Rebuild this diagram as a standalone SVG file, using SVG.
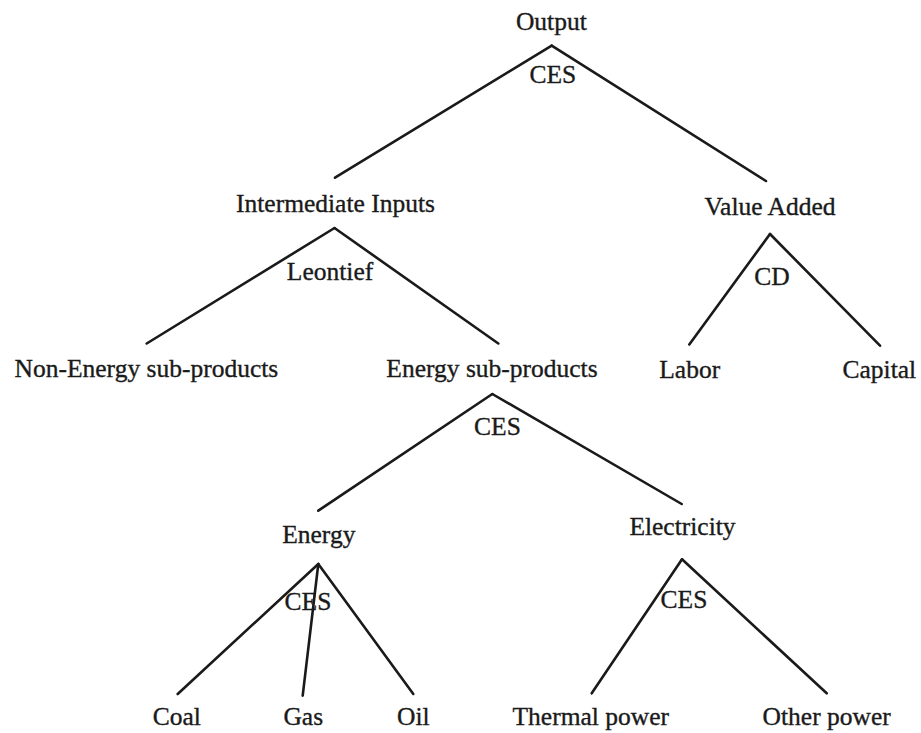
<svg xmlns="http://www.w3.org/2000/svg" width="921" height="733" viewBox="0 0 921 733">
<style>
  text { font-family: "Liberation Serif", "Times New Roman", serif; font-size: 25.5px; fill: #1a1a1a; stroke: #1a1a1a; stroke-width: 0.35; text-anchor: middle; }
  .conn line { stroke: #1a1a1a; stroke-width: 2.6; stroke-linecap: round; fill: none; }
</style>
<rect width="921" height="733" fill="#ffffff"/>
<g id="connectors" class="conn">
  <line x1="551.7" y1="45.7" x2="335" y2="177.7"/>
  <line x1="551.7" y1="45.7" x2="766" y2="181"/>
  <line x1="334.5" y1="228" x2="146.7" y2="343.5"/>
  <line x1="334.5" y1="228" x2="498.3" y2="343.5"/>
  <line x1="770" y1="234" x2="689.3" y2="344.5"/>
  <line x1="770" y1="234" x2="880" y2="345.7"/>
  <line x1="492.3" y1="394" x2="318.3" y2="510.7"/>
  <line x1="492.3" y1="394" x2="681.7" y2="504"/>
  <line x1="318.3" y1="564" x2="177.7" y2="694"/>
  <line x1="318.3" y1="564" x2="302.7" y2="695.7"/>
  <line x1="318.3" y1="564" x2="413.3" y2="694"/>
  <line x1="682" y1="559.3" x2="591.7" y2="693.3"/>
  <line x1="682" y1="559.3" x2="826.7" y2="693.3"/>
</g>
<g id="node-output"><text x="551.3" y="29.5">Output</text></g>
<g id="label-output-ces"><text x="552.8" y="82.7">CES</text></g>
<g id="node-intermediate"><text x="335.5" y="211.7">Intermediate Inputs</text></g>
<g id="node-value-added"><text x="770" y="215">Value Added</text></g>
<g id="label-leontief"><text x="330" y="280">Leontief</text></g>
<g id="label-cd"><text x="772" y="285">CD</text></g>
<g id="node-non-energy"><text x="146.4" y="377">Non-Energy sub-products</text></g>
<g id="node-energy-sub"><text x="492" y="377">Energy sub-products</text></g>
<g id="node-labor"><text x="689.7" y="378">Labor</text></g>
<g id="node-capital"><text x="879.3" y="378">Capital</text></g>
<g id="label-energy-sub-ces"><text x="497.5" y="435">CES</text></g>
<g id="node-energy"><text x="318.8" y="543">Energy</text></g>
<g id="node-electricity"><text x="682.5" y="535">Electricity</text></g>
<g id="label-energy-ces"><text x="308" y="610">CES</text></g>
<g id="label-electricity-ces"><text x="684" y="608.3">CES</text></g>
<g id="node-coal"><text x="176.8" y="725">Coal</text></g>
<g id="node-gas"><text x="303.3" y="725">Gas</text></g>
<g id="node-oil"><text x="413.3" y="725">Oil</text></g>
<g id="node-thermal"><text x="590.8" y="725">Thermal power</text></g>
<g id="node-other"><text x="826.7" y="725">Other power</text></g>
</svg>
